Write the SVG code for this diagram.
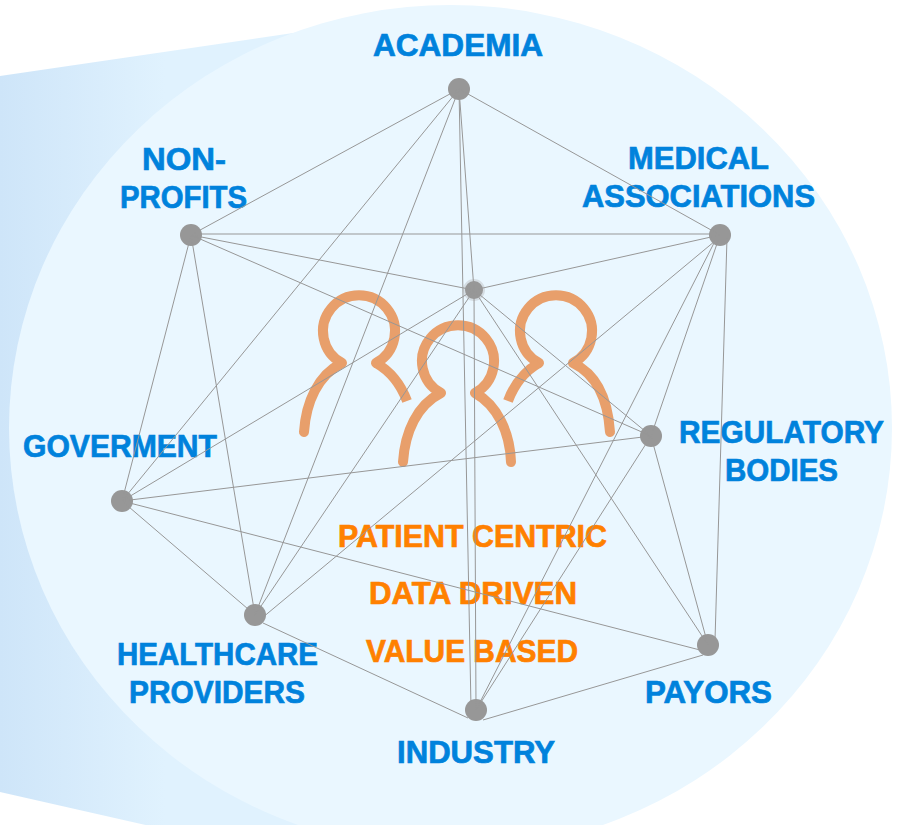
<svg xmlns="http://www.w3.org/2000/svg" width="907" height="825" viewBox="0 0 907 825">
<style>
.lb{font-family:"Liberation Sans",Arial,sans-serif;font-weight:700;font-size:31.5px;fill:#0082dc;text-anchor:middle;stroke:#0082dc;stroke-width:.7}
.og{fill:#ff8000;stroke:#ff8000}
.n{fill:#979797}
.p{fill:none;stroke:#e89f6b;stroke-width:10;stroke-linecap:round;stroke-linejoin:round}
.b{stroke-linecap:butt}
#connectors line{stroke:#979797;stroke-width:1}
</style>
<defs>
<linearGradient id="bg" gradientUnits="userSpaceOnUse" x1="0" y1="0" x2="165" y2="0">
<stop offset="0" stop-color="#cee5f9"/><stop offset="1" stop-color="#e0f2fe"/>
</linearGradient>
</defs>
<rect width="907" height="825" fill="#fff"/>
<polygon points="0,76 300,32 300,860 0,792" fill="url(#bg)"/>
<ellipse cx="450.5" cy="428" rx="441.5" ry="423" fill="#eaf7ff"/>
<g id="people">
<path class="p" d="M304,432C306,402 318,375 342,363A36,36 0 1 1 376,363"/>
<path class="p b" d="M376,363C390,371 401,385 407,401"/>
<path class="p" d="M403,462C405,432 417,405 441,393A36,36 0 1 1 475,393C497,405 510,432 511,462"/>
<path class="p" d="M610,432C608,402 598,375 573,363A36,36 0 1 0 539,363"/>
<path class="p b" d="M539,363C525,371 514,385 508,401"/>
</g>
<g id="academia"><circle class="n" cx="459" cy="89" r="11"/><text class="lb" x="458" y="56" textLength="170" lengthAdjust="spacingAndGlyphs">ACADEMIA</text></g>
<g id="medical-associations"><circle class="n" cx="720" cy="235" r="11"/><text class="lb" x="698.5" y="169" textLength="141" lengthAdjust="spacingAndGlyphs">MEDICAL</text><text class="lb" x="698.5" y="207" textLength="233" lengthAdjust="spacingAndGlyphs">ASSOCIATIONS</text></g>
<g id="non-profits"><circle class="n" cx="191" cy="235" r="11"/><text class="lb" x="184" y="170" textLength="84" lengthAdjust="spacingAndGlyphs">NON-</text><text class="lb" x="183.5" y="208" textLength="127" lengthAdjust="spacingAndGlyphs">PROFITS</text></g>
<g id="center"><circle class="n" cx="474" cy="290" r="10" stroke="#d5dde3" stroke-width="2"/></g>
<g id="regulatory-bodies"><circle class="n" cx="651" cy="436" r="11"/><text class="lb" x="781.5" y="443" textLength="205" lengthAdjust="spacingAndGlyphs">REGULATORY</text><text class="lb" x="781.5" y="481" textLength="113" lengthAdjust="spacingAndGlyphs">BODIES</text></g>
<g id="goverment"><circle class="n" cx="122" cy="501" r="11"/><text class="lb" x="120" y="457" textLength="194" lengthAdjust="spacingAndGlyphs">GOVERMENT</text></g>
<g id="healthcare-providers"><circle class="n" cx="255" cy="615" r="11"/><text class="lb" x="217.5" y="665" textLength="201" lengthAdjust="spacingAndGlyphs">HEALTHCARE</text><text class="lb" x="217" y="703" textLength="176" lengthAdjust="spacingAndGlyphs">PROVIDERS</text></g>
<g id="payors"><circle class="n" cx="708" cy="645" r="11"/><text class="lb" x="708.5" y="703" textLength="127" lengthAdjust="spacingAndGlyphs">PAYORS</text></g>
<g id="industry"><circle class="n" cx="476" cy="710" r="11"/><text class="lb" x="476" y="763" textLength="158" lengthAdjust="spacingAndGlyphs">INDUSTRY</text></g>
<g id="tagline">
<text class="lb og" x="472.5" y="547" textLength="269" lengthAdjust="spacingAndGlyphs">PATIENT CENTRIC</text>
<text class="lb og" x="473" y="604" textLength="208" lengthAdjust="spacingAndGlyphs">DATA DRIVEN</text>
<text class="lb og" x="472" y="662" textLength="212" lengthAdjust="spacingAndGlyphs">VALUE BASED</text>
</g>
<g id="connectors">
<line x1="459" y1="89" x2="191" y2="235"/>
<line x1="459" y1="89" x2="720" y2="235"/>
<line x1="459" y1="89" x2="474" y2="290"/>
<line x1="459" y1="89" x2="471" y2="708"/>
<line x1="459" y1="89" x2="122" y2="501"/>
<line x1="459" y1="89" x2="255" y2="615"/>
<line x1="191" y1="234" x2="720" y2="234"/>
<line x1="191" y1="235" x2="474" y2="290"/>
<line x1="191" y1="235" x2="651" y2="436"/>
<line x1="191" y1="235" x2="122" y2="501"/>
<line x1="191" y1="235" x2="255" y2="615"/>
<line x1="720" y1="235" x2="474" y2="290"/>
<line x1="720" y1="235" x2="651" y2="436"/>
<line x1="727" y1="238" x2="715" y2="640"/>
<line x1="715" y1="241" x2="262" y2="618"/>
<line x1="714" y1="243" x2="476" y2="710"/>
<line x1="474" y1="290" x2="122" y2="501"/>
<line x1="474" y1="290" x2="255" y2="615"/>
<line x1="474" y1="290" x2="651" y2="436"/>
<line x1="474" y1="290" x2="708" y2="645"/>
<line x1="474" y1="290" x2="476" y2="710"/>
<line x1="651" y1="436" x2="122" y2="501"/>
<line x1="651" y1="436" x2="708" y2="645"/>
<line x1="651" y1="436" x2="476" y2="710"/>
<line x1="122" y1="501" x2="255" y2="615"/>
<line x1="122" y1="501" x2="700" y2="650"/>
<line x1="263" y1="623" x2="468" y2="718"/>
<line x1="483" y1="720" x2="703" y2="655"/>
</g>
</svg>
